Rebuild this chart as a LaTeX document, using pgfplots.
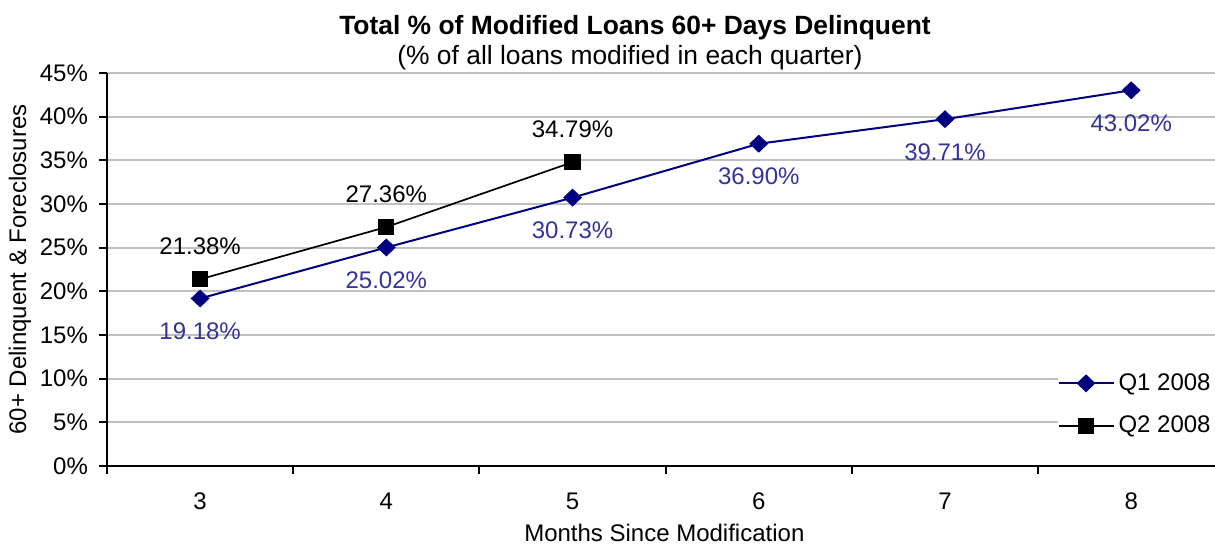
\documentclass[border=0pt]{standalone}
\usepackage{fontspec}
\setmainfont{Liberation Sans}
\usepackage{pgfplots}
\pgfplotsset{compat=1.18}

\definecolor{qone}{RGB}{0,0,128}
\definecolor{qonelbl}{RGB}{51,51,153}
\definecolor{gridgray}{RGB}{192,192,192}
\newcommand\cf{\fontsize{12}{14}\selectfont}

\begin{document}
\begin{tikzpicture}
\begin{axis}[
    scale only axis,
    width=554pt, height=196.5pt,
    xmin=2.5, xmax=8.45,
    ymin=0, ymax=45,
    axis lines=left,
    axis line style={-, line width=1pt},
    xtick={2.5,3.5,...,7.5},
    xticklabels={},
    extra x ticks={3,4,5,6,7,8},
    extra x tick labels={3,4,5,6,7,8},
    extra x tick style={major tick length=0pt, grid=none,
        xticklabel style={yshift=-10pt}},
    ytick={0,5,...,45},
    yticklabel={\pgfmathprintnumber{\tick}\%},
    yticklabel style={xshift=-2pt},
    tick align=outside,
    major tick length=4pt,
    tick style={black, line width=1pt},
    ymajorgrids=true,
    grid style={gridgray, line width=1pt},
    /pgf/number format/assume math mode=true,
    tick label style={font=\cf},
    xlabel={Months Since Modification},
    ylabel={60+ Delinquent \& Foreclosures},
    every axis x label/.style={at={([yshift=-33.5pt]axis description cs:0.503,0)}, anchor=center, font=\cf},
    every axis y label/.style={at={([xshift=-43.5pt]axis description cs:0,0.5)}, anchor=center, rotate=90, font=\cf},
    legend style={at={(rel axis cs:1,0.262)}, anchor=north east, draw=none, fill=white,
        font=\cf, row sep=7.5pt, inner xsep=0pt, inner ysep=3pt},
    legend cell align=left,
    legend image code/.code={\draw[mark repeat=2,mark phase=2] plot coordinates {(0pt,0pt)(13.75pt,0pt)(27.5pt,0pt)};},
]

\addplot[
    color=qone, line width=1pt,
    mark=diamond*, mark size=3.8pt,
    mark options={solid, fill=qone, xscale=1.4},
    nodes near coords={\pgfmathprintnumber[fixed,fixed zerofill,precision=2]{\pgfplotspointmeta}\%},
    every node near coord/.append style={font=\cf, text=qonelbl, anchor=center, yshift=-16.5pt},
    ]
    coordinates {
    (3, 19.18)(4, 25.02)(5, 30.73)(6, 36.90)(7, 39.71)(8, 43.02)
    };
\addlegendentry{Q1 2008}

\addplot[
    color=black, line width=0.85pt,
    mark=square*, mark size=3.6pt,
    mark options={solid, fill=black},
    nodes near coords={\pgfmathprintnumber[fixed,fixed zerofill,precision=2]{\pgfplotspointmeta}\%},
    every node near coord/.append style={font=\cf, text=black, anchor=center, yshift=16.5pt},
    ]
    coordinates {
    (3, 21.38)(4, 27.36)(5, 34.79)
    };
\addlegendentry{Q2 2008}

\end{axis}

% titles
\node[font=\fontsize{13.2}{15}\selectfont\bfseries] at (264pt,219pt) {Total \% of Modified Loans 60+ Days Delinquent};
\node[font=\fontsize{13.2}{15}\selectfont] at (261.5pt,204pt) {(\% of all loans modified in each quarter)};

\pgfresetboundingbox
\path[use as bounding box] (-53.5pt,-39pt) rectangle (554pt,233pt);
\end{tikzpicture}
\end{document}
